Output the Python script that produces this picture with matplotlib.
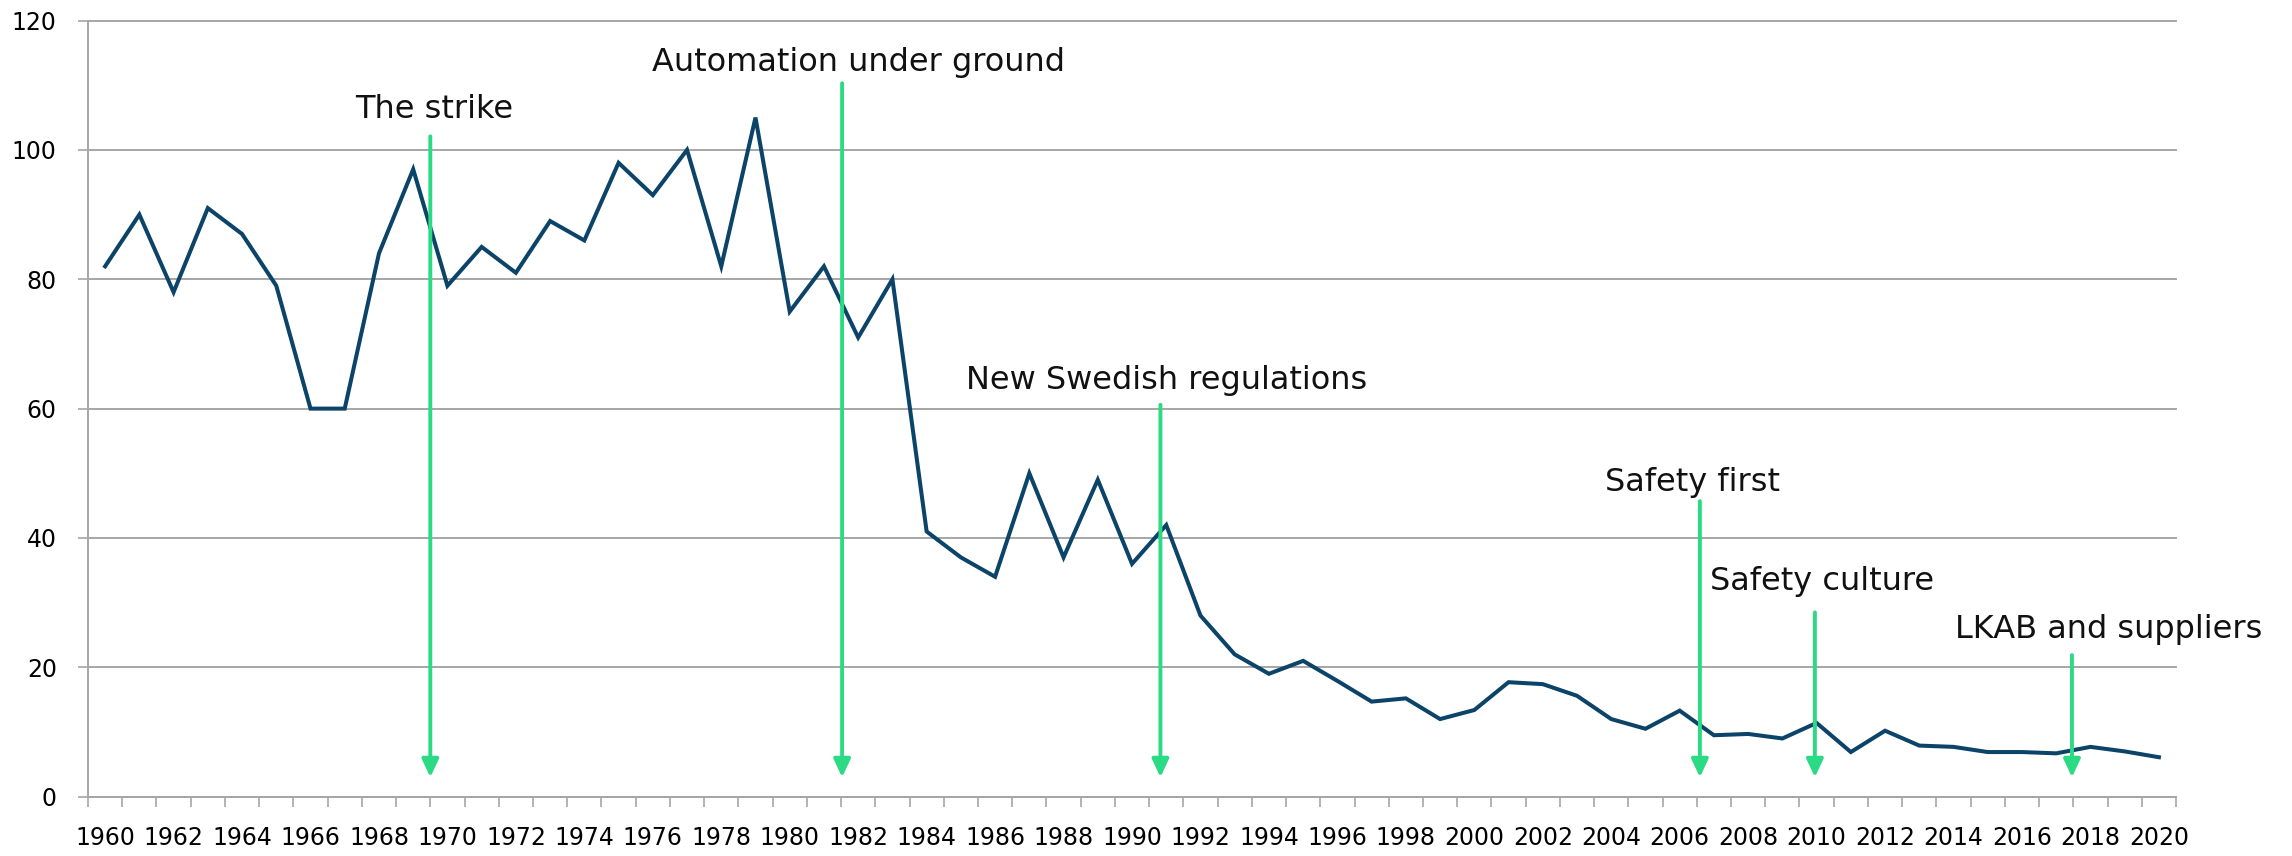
import numpy as np
import matplotlib
matplotlib.use("Agg")
import matplotlib.pyplot as plt

# region data
years = list(range(1960, 2021))
values = [82, 90, 78, 91, 87, 79, 60, 60, 84, 97,
          79, 85, 81, 89, 86, 98, 93, 100, 82, 105,
          75, 82, 71, 80, 41, 37, 34, 50, 37, 49,
          36, 42, 28, 22, 19, 21, 17.9, 14.7, 15.2, 12.0,
          13.4, 17.7, 17.4, 15.6, 12.0, 10.5, 13.3, 9.5, 9.7, 9.0,
          11.4, 6.9, 10.2, 7.9, 7.7, 6.9, 6.9, 6.7, 7.7, 7.0,
          6.1]

event_labels = ["The strike", "Automation under ground", "New Swedish regulations",
                "Safety first", "Safety culture", "LKAB and suppliers"]
event_x = [1969.5, 1981.53, 1990.83, 2006.59, 2009.95, 2017.46]      # arrow position
event_top = [102.1, 110.3, 60.6, 45.7, 28.5, 21.9]                   # arrow start
label_x = [1969.62, 1982.01, 1991.01, 2006.36, 2010.17, 2018.53]     # label centre
label_y = [104.9, 112.2, 63.0, 47.3, 32.0, 24.5]                     # label baseline
arrow_tip = 3.0
# endregion

LINE = '#0b4468'
GREEN = '#2bdb84'
GRID = '#a6a6a6'

fig = plt.figure(figsize=(22.92, 8.56), dpi=100)
ax = fig.add_axes([0.0384, 0.0693, 0.9110, 0.9067])

ax.plot(years, values, color=LINE, lw=2.9, solid_joinstyle='miter', zorder=3)

# arrows + labels
for lab, x, top, lx, ly in zip(event_labels, event_x, event_top, label_x, label_y):
    ax.annotate('', xy=(x, arrow_tip), xytext=(x, top),
                arrowprops=dict(arrowstyle='-|>,head_length=0.6,head_width=0.28',
                                mutation_scale=18, color=GREEN, lw=2.8,
                                shrinkA=0, shrinkB=0), zorder=4)
    ax.text(lx, ly, lab, ha='center', va='baseline', fontsize=23,
            color='#111111', zorder=5)

ax.set_xlim(1959.5, 2020.5)
ax.set_ylim(0, 120)
ax.set_yticks(np.arange(0, 121, 20))
ax.yaxis.grid(True, color=GRID, lw=1.4)
ax.set_axisbelow(True)
for gl in ax.get_ygridlines():
    gl.set_clip_on(False)

# category-style x axis: tick marks between years, labels every 2 years
ax.set_xticks(np.arange(1959.5, 2021, 1.0))
ax.set_xticklabels([])
ax.set_xticks(years[::2], minor=True)
ax.set_xticklabels([str(y) for y in years[::2]], minor=True)
ax.tick_params(axis='x', which='major', length=7.5, width=1.2, color=GRID, direction='out')
ax.tick_params(axis='x', which='minor', length=0, pad=21, labelsize=17)
ax.tick_params(axis='y', length=7.5, width=1.2, color=GRID, pad=15, labelsize=17)

for s in ['top', 'right']:
    ax.spines[s].set_visible(False)
for s in ['left', 'bottom']:
    ax.spines[s].set_color(GRID)
    ax.spines[s].set_linewidth(1.4)

fig.savefig('out.png', dpi=100)
